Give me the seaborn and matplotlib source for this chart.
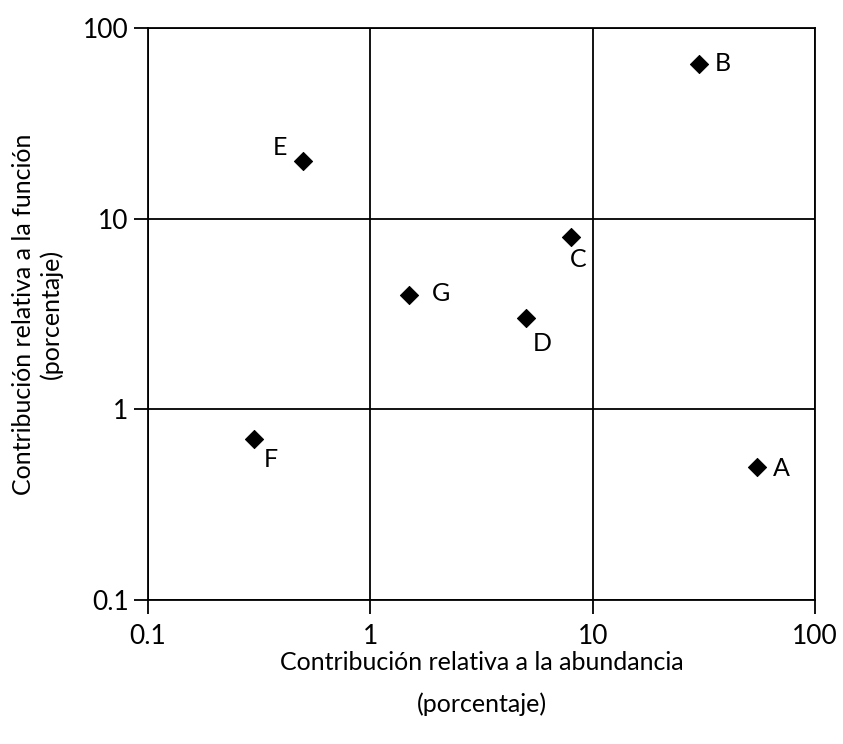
import pandas as pd
import matplotlib
matplotlib.use("Agg")
import matplotlib.pyplot as plt
import seaborn as sns
from matplotlib.ticker import FixedLocator, FixedFormatter, NullLocator

# data
labels = ["A", "B", "C", "D", "E", "F", "G"]
abundance = [55, 30, 8, 5, 0.5, 0.3, 1.5]
function = [0.5, 65, 8, 3, 20, 0.7, 4]
ticks = [0.1, 1, 10, 100]
tick_labels = ["0.1", "1", "10", "100"]

# label offsets in points (dx, dy), label centred there
offsets = {"A": (17, -1), "B": (17, 0), "C": (5, -16), "D": (12, -18),
           "E": (-17, 10), "F": (12, -15), "G": (23, 1)}

df = pd.DataFrame({"label": labels, "abundance": abundance, "function": function})

sns.set_style("white", {"xtick.bottom": True, "ytick.left": True,
                        "text.color": "black", "axes.labelcolor": "black",
                        "xtick.color": "black", "ytick.color": "black"})
plt.rcParams["font.family"] = ["Lato", "DejaVu Sans"]

fig = plt.figure(figsize=(8.43, 7.44), dpi=100)
ax = fig.add_axes([148 / 843, 1 - 600 / 744, 667 / 843, 572 / 744])

ax.set_xscale("log")
ax.set_yscale("log")
ax.set_xlim(0.1, 100)
ax.set_ylim(0.1, 100)

sns.scatterplot(data=df, x="abundance", y="function", marker="D", s=85,
                color="black", edgecolor="black", ax=ax, zorder=3)

for lab, xv, yv in zip(labels, abundance, function):
    dx, dy = offsets[lab]
    ax.annotate(lab, (xv, yv), xytext=(dx, dy), textcoords="offset points",
                ha="center", va="center", fontsize=18, color="black")

for axis in (ax.xaxis, ax.yaxis):
    axis.set_major_locator(FixedLocator(ticks))
    axis.set_major_formatter(FixedFormatter(tick_labels))
    axis.set_minor_locator(NullLocator())

ax.grid(True, which="major", color="black", linewidth=1.3)
for sp in ax.spines.values():
    sp.set_color("black")
    sp.set_linewidth(1.3)
ax.tick_params(axis="both", which="major", direction="out", length=10,
               width=1.3, color="black", labelcolor="black", labelsize=19,
               bottom=True, left=True)
ax.tick_params(axis="x", pad=7)
ax.tick_params(axis="y", pad=4)

ax.set_xlabel("Contribución relativa a la abundancia\n(porcentaje)", fontsize=18,
              labelpad=2, linespacing=1.9, color="black")
ax.set_ylabel("Contribución relativa a la función\n(porcentaje)", fontsize=18,
              labelpad=14, linespacing=1.25, color="black")

fig.savefig("out.png", dpi=100)
